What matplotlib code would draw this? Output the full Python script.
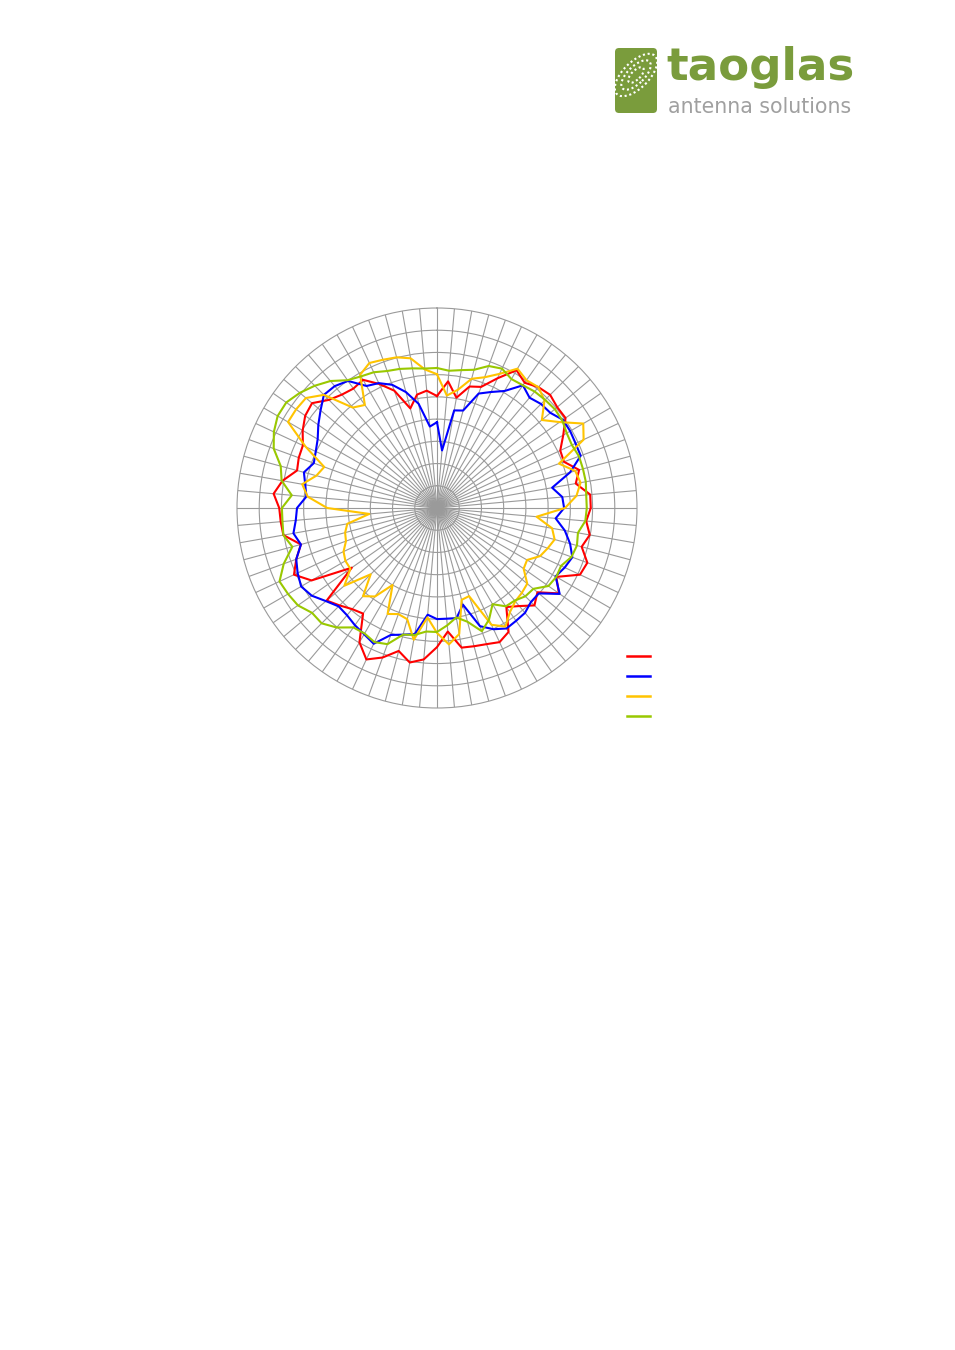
import numpy as np
import matplotlib
matplotlib.use("Agg")
import matplotlib.pyplot as plt
from matplotlib.lines import Line2D
from matplotlib.patches import FancyBboxPatch, Ellipse

# ---- data (dB), angles every 5 degrees, 0 deg at top, clockwise ----
angles_deg = list(range(0, 360, 5))

red_db = [-14.8, -11.4, -14.8, -11.7, -11.0, -7.8, -4.2, -5.6, -4.5, -4.0, -4.7, -4.7, -7.2, -9.4, -9.6, -6.9, -8.3, -5.4,
          -5.4, -6.3, -5.1, -6.3, -4.0, -4.5, -9.0, -6.5, -10.5, -9.0, -11.2, -12.8, -7.8, -6.7, -7.4, -7.8, -8.1, -12.1,
          -8.7, -5.8, -4.7, -6.7, -4.2, -2.4, -5.1, -11.0, -10.3, -9.0, -7.6, -16.6, -7.4, -4.5, -6.3, -8.3, -4.9, -4.7,
          -4.5, -3.1, -4.7, -7.4, -6.9, -6.7, -5.1, -3.8, -3.3, -5.6, -6.7, -7.2, -6.7, -9.2, -11.9, -16.8, -14.1, -13.5]

blue_db = [-20.7, -27.0, -17.7, -17.3, -12.6, -11.2, -9.6, -6.3, -7.6, -6.9, -6.7, -5.4, -5.4, -5.6, -5.6, -9.0, -13.7, -11.7,
           -11.4, -13.2, -10.8, -9.0, -7.6, -8.3, -9.2, -6.3, -10.1, -10.1, -9.2, -9.0, -8.7, -9.9, -11.7, -17.5, -14.8, -15.0,
           -15.0, -15.9, -11.2, -10.5, -9.6, -6.3, -7.2, -7.8, -8.5, -8.7, -7.4, -5.6, -4.7, -5.4, -6.3, -8.3, -7.2, -8.1,
           -8.5, -10.5, -9.9, -9.0, -10.5, -9.9, -9.0, -7.4, -5.8, -4.0, -4.2, -5.1, -8.3, -9.0, -10.5, -13.0, -16.2, -21.6]

yellow_db = [-9.9, -14.6, -13.0, -9.9, -8.7, -6.7, -3.8, -4.9, -4.5, -5.8, -9.2, -6.3, -2.0, -3.6, -10.8, -7.8, -7.2, -8.5,
             -11.2, -17.5, -13.7, -12.6, -13.5, -14.4, -16.6, -16.2, -13.5, -13.0, -12.6, -11.4, -9.2, -11.0, -18.9, -18.6, -11.2, -9.2,
             -11.9, -15.3, -9.9, -14.1, -14.6, -13.7, -20.0, -15.7, -14.1, -18.9, -12.8, -16.2, -16.2, -16.8, -18.2, -18.6, -19.5, -24.7,
             -15.3, -10.8, -9.2, -11.9, -13.0, -7.4, -1.3, -1.3, -1.5, -4.0, -10.5, -11.7, -5.4, -4.0, -4.5, -4.9, -5.8, -8.7]

green_db = [-8.5, -9.0, -8.5, -7.8, -6.0, -5.4, -6.5, -6.3, -5.8, -5.6, -5.4, -5.6, -6.3, -6.5, -6.0, -6.0, -6.0, -6.3,
            -6.3, -6.5, -7.8, -7.4, -7.8, -9.2, -9.0, -9.4, -11.7, -11.9, -12.8, -13.0, -15.0, -12.3, -10.5, -13.5, -15.0, -13.5,
            -12.1, -12.1, -11.0, -10.5, -7.4, -6.7, -7.4, -7.2, -4.9, -3.3, -3.3, -1.8, -1.3, -0.9, -3.3, -6.3, -4.9, -5.1,
            -5.1, -7.2, -4.5, -3.6, -0.9, 0.5, 1.4, 1.4, 0.3, -1.1, -2.7, -4.9, -5.8, -6.3, -7.2, -7.6, -8.1, -8.5]

series = [("red", red_db, "#FF0000"),
          ("blue", blue_db, "#0000FF"),
          ("yellow", yellow_db, "#FFC400"),
          ("green", green_db, "#99C800")]

r_min, r_max, r_step = -40, 5, 5

# ---- figure ----
fig = plt.figure(figsize=(9.55, 13.5), dpi=100)
fig.patch.set_facecolor("white")

ax = fig.add_axes([237 / 955, 1 - 708 / 1350, 400 / 955, 400 / 1350], projection="polar")
ax.set_theta_zero_location("N")
ax.set_theta_direction(-1)
ax.set_rlim(r_min, r_max)
ax.set_rticks(list(range(r_min + r_step, r_max, r_step)))
ax.set_yticklabels([])
ax.set_thetagrids(angles_deg, labels=[""] * len(angles_deg))
ax.grid(True, color="#9a9a9a", linewidth=0.8)
ax.spines["polar"].set_color("#9a9a9a")
ax.spines["polar"].set_linewidth(0.8)
ax.tick_params(length=0, pad=0)

theta = np.deg2rad(np.array(angles_deg + [angles_deg[0]]))
for name, vals, col in series:
    ax.plot(theta, vals + [vals[0]], color=col, linewidth=1.5, zorder=3)

# legend swatches (no labels)
for i, (name, vals, col) in enumerate(series):
    y = 1 - (656 + 20 * i) / 1350
    fig.add_artist(Line2D([627 / 955, 650 / 955], [y, y], color=col, linewidth=1.8,
                          transform=fig.transFigure))

# ---- logo ----
logo_green = "#7A9C3C"
icon_ax = fig.add_axes([615 / 955, 1 - 113 / 1350, 42 / 955, 65 / 1350])
icon_ax.set_xlim(0, 42)
icon_ax.set_ylim(0, 65)
icon_ax.axis("off")
icon_ax.add_patch(FancyBboxPatch((0, 0), 42, 65, boxstyle="round,pad=0,rounding_size=4",
                                 facecolor=logo_green, edgecolor="none", clip_on=False))
for w, h in [(54, 26), (38, 17), (20, 9)]:
    icon_ax.add_patch(Ellipse((21, 38), w, h, angle=45, fill=False, edgecolor="white",
                              linestyle=(0, (1, 1.3)), linewidth=1.5))

fig.text(666 / 955, 1 - 80 / 1350, "taoglas", fontsize=32.5, fontweight="bold",
         color=logo_green, family="DejaVu Sans", va="baseline", ha="left")
fig.text(668 / 955, 1 - 113 / 1350, "antenna solutions", fontsize=14.8,
         color="#A0A0A0", family="DejaVu Sans", va="baseline", ha="left")

fig.savefig("out.png", dpi=100, facecolor="white")
